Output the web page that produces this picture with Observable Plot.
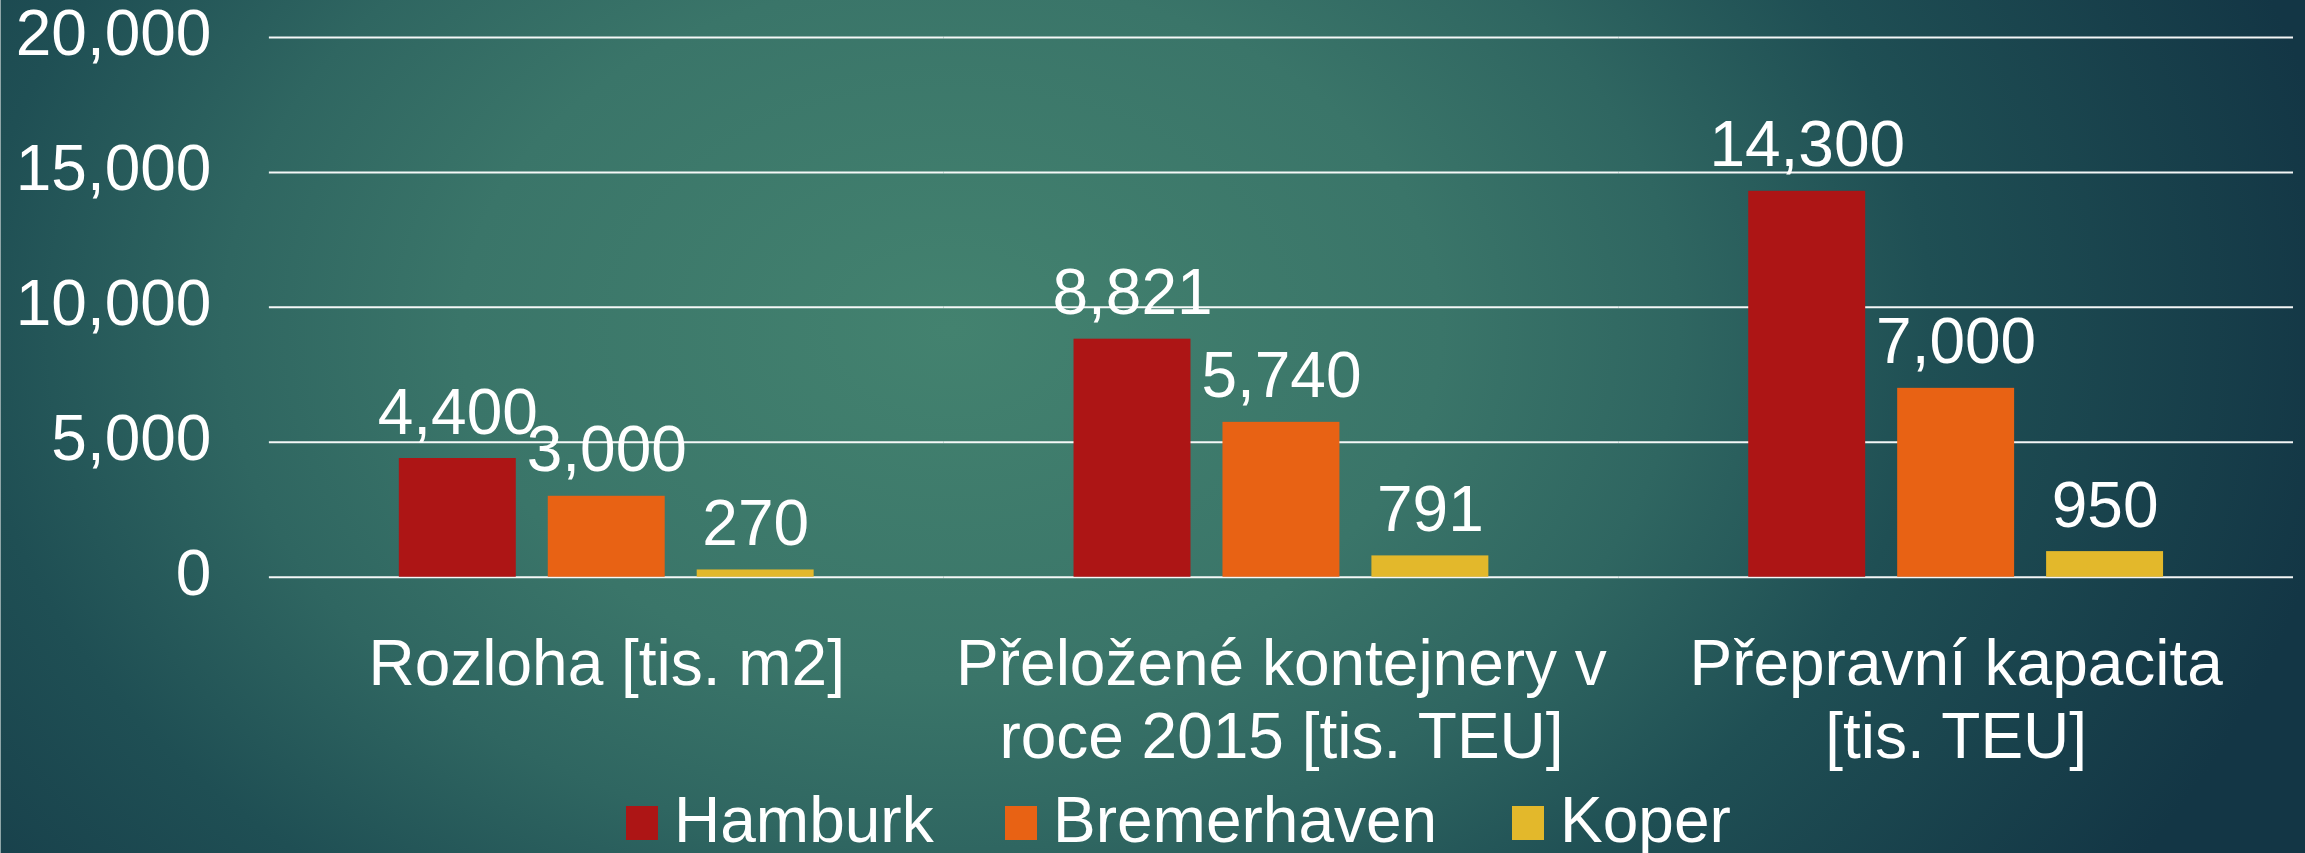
<!DOCTYPE html>
<html>
<head>
<meta charset="utf-8">
<script src="https://cdn.jsdelivr.net/npm/d3@7"></script>
<script src="https://cdn.jsdelivr.net/npm/@observablehq/plot@0.6"></script>
<style>
  html, body { margin: 0; padding: 0; }
  #wrap {
    position: relative; width: 2305px; height: 853px; overflow: hidden;
    background: radial-gradient(ellipse 1400px 1000px at 950px 330px,
      #43826f 0%, #3a7569 35%, #2f6661 52%, #1f4f54 70%, #133645 100%);
    font-family: "Liberation Sans", Arial, sans-serif;
    border-left: 1px solid #8fa6a8; box-sizing: border-box;
  }
  #legend {
    position: absolute; left: 0; top: 790px; height: 60px; display: flex; align-items: center;
    color: white; font-size: 64px; line-height: 1;
  }
  .item { display: flex; align-items: center; }
  .sw { width: 32px; height: 34px; margin-right: 16px; margin-top: 6px; }
</style>
</head>
<body>
<div id="wrap"><div id="chart"></div><div id="legend"></div></div>
<script>
const categories = ["Rozloha [tis. m2]", "Přeložené kontejnery v roce 2015 [tis. TEU]", "Přepravní kapacita [tis. TEU]"];
const categoryLabels = ["Rozloha [tis. m2]", "Přeložené kontejnery v\nroce 2015 [tis. TEU]", "Přepravní kapacita\n[tis. TEU]"];
const series = ["Hamburk", "Bremerhaven", "Koper"];
const hamburk = [4400, 8821, 14300];
const bremerhaven = [3000, 5740, 7000];
const koper = [270, 791, 950];
const colors = ["#ad1515", "#e86214", "#e3b82b"];
const yTicks = [0, 5000, 10000, 15000, 20000];

const valuesBySeries = [hamburk, bremerhaven, koper];
const data = [];
categories.forEach((c, i) => {
  series.forEach((s, j) => data.push({category: c, series: s, value: valuesBySeries[j][i]}));
});
const fmt = d3.format(",");
const labelOf = new Map(categories.map((c, i) => [c, categoryLabels[i]]));

const chart = Plot.plot({
  width: 2305,
  height: 785,
  marginTop: 37,
  marginBottom: 208,
  marginLeft: 267,
  marginRight: 12,
  style: {background: "transparent", color: "white", fontFamily: "'Liberation Sans', Arial, sans-serif"},
  fx: {domain: categories, padding: 0},
  x: {domain: series, paddingInner: 0.213, paddingOuter: 0.86, axis: null},
  y: {domain: [0, 20000]},
  color: {domain: series, range: colors},
  marks: [
    Plot.gridY(yTicks, {stroke: "white", strokeOpacity: 0.95, strokeWidth: 2}),
    Plot.barY(data, {fx: "category", x: "series", y: "value", fill: "series"}),
    Plot.text(data, {fx: "category", x: "series", y: "value", text: d => fmt(d.value),
      dy: -25, lineAnchor: "bottom", fill: "white", fontSize: 64}),
    Plot.axisY(yTicks, {tickFormat: fmt, tickSize: 0, tickPadding: 58, fontSize: 64, fill: "white", label: null, dy: -3}),
    Plot.axisFx({anchor: "bottom", tickSize: 0, tickPadding: 56, fontSize: 64, lineHeight: 1.14,
      fill: "white", label: null, tickFormat: c => labelOf.get(c)})
  ]
});
document.getElementById("chart").appendChild(chart);

const legend = document.getElementById("legend");
const lefts = [625, 1004, 1511];
series.forEach((s, i) => {
  const item = document.createElement("div");
  item.className = "item";
  item.style.position = "absolute";
  item.style.left = lefts[i] + "px";
  item.style.top = "0px";
  item.style.height = "60px";
  const sw = document.createElement("div");
  sw.className = "sw";
  sw.style.background = colors[i];
  const t = document.createElement("span");
  t.textContent = s;
  item.appendChild(sw); item.appendChild(t);
  legend.appendChild(item);
});
</script>
</body>
</html>
